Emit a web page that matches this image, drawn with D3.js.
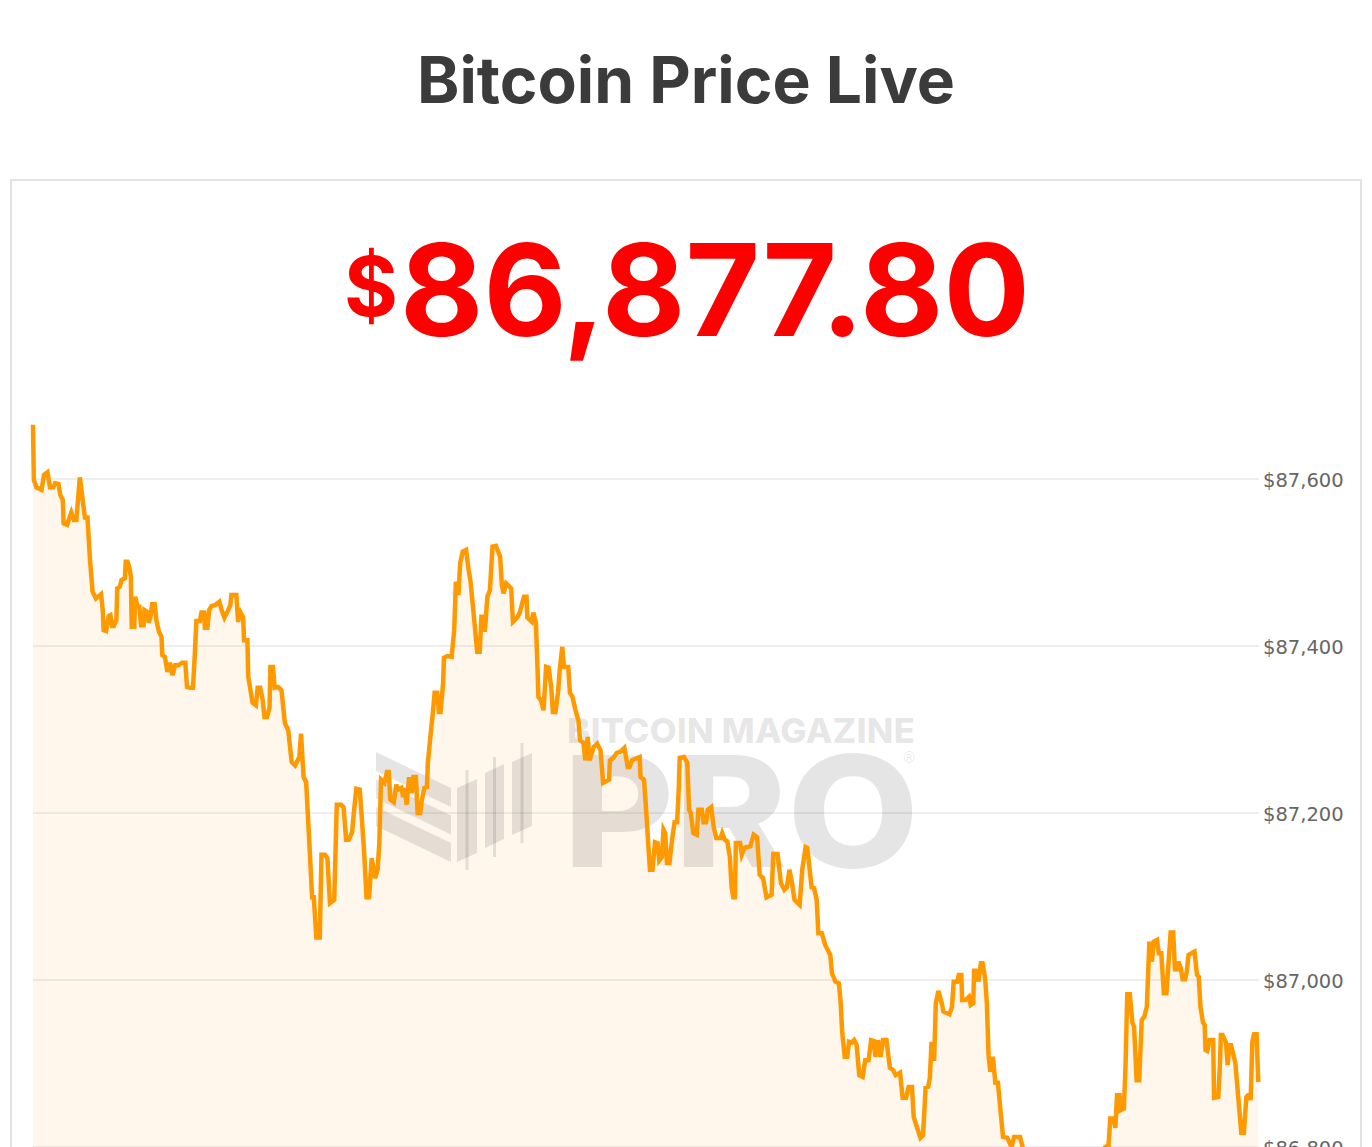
<!DOCTYPE html>
<html><head><meta charset="utf-8">
<script src="https://cdn.jsdelivr.net/npm/d3@7"></script>
<style>html,body{margin:0;padding:0;background:#fff;overflow:hidden}</style>
</head><body><svg id="c" width="1372" height="1147"></svg>
<script>
const title = "Bitcoin Price Live";
const brandTop = "BITCOIN MAGAZINE";
const brandMain = "PRO";
// minutes since start of the 24h window
const times = [0,1,4,10,13,17,20,24,26,30,32,35,36,40,45,48,51,55,58,61,64,67,70,74,80,82,83,86,89,91,93,95,98,99,102,104,108,109,111,113,115,116,119,120,123,125,127,130,131,134,136,138,140,143,145,148,151,152,155,158,161,164,167,171,175,179,181,185,188,190,192,196,198,201,202,205,207,210,214,219,222,225,228,232,233,239,241,244,247,248,252,253,258,262,264,267,270,272,275,278,279,282,284,288,292,296,300,304,308,313,315,318,321,326,328,330,333,337,339,343,346,349,354,357,362,365,368,371,375,377,380,384,386,389,392,395,398,402,405,407,409,413,416,418,420,424,427,429,433,435,437,439,442,445,447,450,452,455,457,460,463,464,467,470,472,475,477,479,482,483,487,492,495,497,500,502,505,509,512,514,518,522,525,527,530,531,534,537,540,544,549,551,553,556,562,564,569,572,577,580,581,586,588,591,593,594,597,600,603,606,609,611,614,617,619,622,624,629,631,634,638,641,643,647,649,652,654,659,663,667,670,677,678,682,686,690,695,699,701,704,708,713,714,718,720,722,725,728,731,734,736,739,741,743,745,748,751,754,757,759,760,765,769,771,773,776,780,782,786,788,791,793,797,800,803,808,810,813,816,819,821,823,825,826,831,833,836,838,843,847,851,854,858,862,868,870,875,879,883,886,889,892,895,901,904,908,910,912,915,918,921,923,927,931,933,937,939,943,947,949,951,954,957,959,962,965,968,971,975,978,982,985,988,990,993,996,999,1003,1007,1011,1014,1019,1022,1026,1029,1033,1035,1040,1043,1046,1049,1052,1054,1056,1059,1061,1064,1068,1070,1077,1080,1082,1086,1088,1091,1092,1096,1100,1102,1105,1106,1110,1111,1114,1116,1119,1121,1123,1125,1128,1131,1134,1137,1140,1145,1150,1153,1160,1163,1167,1174,1184,1193,1203,1212,1221,1231,1240,1250,1257,1260,1264,1266,1270,1272,1274,1277,1278,1282,1284,1286,1289,1292,1294,1297,1300,1303,1306,1309,1312,1315,1317,1321,1323,1326,1329,1332,1335,1337,1340,1342,1345,1346,1349,1351,1354,1356,1358,1365,1368,1370,1372,1375,1377,1378,1380,1383,1387,1388,1393,1395,1396,1398,1402,1404,1406,1408,1413,1416,1420,1423,1426,1428,1430,1431,1433,1435,1438,1440];
const prices = [87665,87599,87590,87587,87605,87608,87590,87590,87595,87594,
87581,87575,87547,87545,87560,87551,87551,87602,87578,87554,
87554,87503,87465,87457,87462,87443,87419,87418,87436,87437,
87424,87424,87431,87469,87471,87479,87481,87501,87501,87495,
87483,87423,87423,87459,87447,87447,87425,87425,87443,87441,
87428,87434,87450,87450,87431,87417,87411,87389,87387,87369,
87380,87365,87377,87377,87380,87380,87351,87350,87350,87387,
87430,87430,87440,87440,87422,87422,87443,87448,87449,87453,
87442,87434,87440,87449,87461,87461,87429,87440,87434,87407,
87407,87363,87332,87329,87350,87350,87335,87315,87315,87326,
87375,87375,87350,87351,87347,87308,87299,87261,87257,87267,
87295,87243,87237,87140,87099,87099,87051,87051,87150,87150,
87146,87092,87096,87210,87210,87207,87168,87168,87177,87200,
87229,87228,87200,87156,87099,87099,87146,87122,87132,87164,
87240,87236,87249,87249,87216,87213,87234,87228,87230,87219,
87230,87210,87243,87224,87243,87243,87200,87200,87216,87230,
87231,87260,87291,87321,87344,87344,87321,87321,87356,87386,
87388,87387,87419,87477,87461,87499,87513,87515,87491,87479,
87437,87393,87393,87435,87435,87417,87459,87467,87519,87520,
87507,87473,87463,87475,87469,87429,87434,87440,87459,87459,
87434,87429,87440,87428,87371,87339,87335,87323,87375,87374,
87351,87321,87321,87344,87371,87399,87375,87375,87344,87339,
87321,87311,87287,87284,87263,87291,87263,87279,87283,87275,
87236,87240,87263,87266,87272,87273,87278,87255,87255,87263,
87265,87267,87243,87240,87212,87180,87132,87132,87165,87164,
87143,87147,87180,87176,87140,87140,87168,87189,87189,87231,
87266,87267,87260,87204,87200,87176,87174,87204,87204,87189,
87189,87204,87207,87183,87170,87170,87176,87168,87166,87147,
87111,87099,87099,87164,87164,87150,87158,87159,87160,87174,
87171,87126,87122,87099,87102,87151,87151,87116,87108,87111,
87132,87116,87096,87090,87132,87159,87158,87140,87111,87110,
87096,87056,87056,87042,87038,87030,87008,86998,86996,86976,
86937,86908,86908,86926,86925,86928,86922,86886,86884,86904,
86904,86928,86927,86908,86928,86908,86928,86928,86895,86892,
86886,86889,86859,86859,86872,86872,86836,86820,86811,86814,
86871,86872,86883,86926,86903,86972,86987,86972,86962,86959,
86968,86998,86998,87006,87006,86976,86976,86980,86970,86972,
87011,87011,86998,87020,87020,87002,86972,86910,86890,86908,
86877,86877,86844,86812,86811,86800,86812,86812,86800,
86784,86766,86774,86754,86748,86763,86742,86758,86772,86778,86790,
86800,86802,86834,86834,86823,86862,86862,86844,86846,86898,86983,
86983,86949,86944,86880,86880,86952,86956,86968,87046,87022,
87046,87048,87032,87032,86984,86984,87028,87057,87057,87013,
87013,87022,87014,87001,87001,87010,87030,87034,87006,87004,
86968,86949,86946,86916,86915,86928,86928,86859,86860,86901,
86934,86934,86925,86898,86922,86922,86901,86865,86817,86817,
86860,86862,86862,86856,86926,86935,86935,86877.8];
const yTicks = [86800, 87000, 87200, 87400, 87600];

const svg = d3.select('#c');
const x = d3.scaleLinear().domain([0, 1440]).range([33, 1258.3]);
const y = d3.scaleLinear().domain([87000, 87600]).range([980, 479]);
const data = times.map((t, i) => ({t: t, p: prices[i]}));

function fitWidth(sel, target) {
  const w = sel.node().getBBox().width;
  const fs = parseFloat(sel.style('font-size'));
  sel.style('font-size', (fs * target / w) + 'px');
}

// card
svg.append('rect').attr('x', 11).attr('y', 180).attr('width', 1350).attr('height', 1100)
  .attr('fill', '#fff').attr('stroke', '#e3e3e3').attr('stroke-width', 2);

// title
const tt = svg.append('text').attr('x', 686).attr('y', 103).attr('text-anchor', 'middle')
  .style('font-family', 'Inter, Roboto, sans-serif').style('font-weight', 700).style('font-size', '60px')
  .attr('fill', '#3b3b3b').text(title);
fitWidth(tt, 538);

// big price
const last = prices[prices.length - 1];
const dollar = svg.append('text').attr('x', 344).attr('y', 316)
  .style('font-family', 'Inter, Roboto, sans-serif').style('font-weight', 700).style('font-size', '78px')
  .attr('fill', '#ff0000').text('$');
fitWidth(dollar, 54);
const num = svg.append('text').attr('x', 400).attr('y', 336)
  .style('font-family', 'Inter, Roboto, sans-serif').style('font-weight', 700).style('font-size', '128px')
  .attr('fill', '#ff0000').text(d3.format(',.2f')(last));
fitWidth(num, 630);

// gridlines
svg.append('g').selectAll('line').data(yTicks).join('line')
  .attr('x1', 33).attr('x2', 1259).attr('y1', d => y(d)).attr('y2', d => y(d))
  .attr('stroke', '#eeeeee').attr('stroke-width', 2);

// area fill
const area = d3.area().x(d => x(d.t)).y0(y(86300)).y1(d => y(d.p));
svg.append('path').datum(data).attr('d', area).attr('fill', 'rgba(255,153,0,0.075)');

// watermark
const wm = svg.append('g').attr('fill', '#000').attr('fill-opacity', 0.1);
[0, 1, 2].forEach(i => {
  const t0 = 752 + 27.5 * i;
  wm.append('path').attr('d', `M376,${t0} L451,${t0 + 36} L451,${t0 + 55} L376,${t0 + 19} Z`);
});
[[457, 477, 788, 862, 770, 870], [485, 504, 773, 848, 757, 857], [512, 532, 762, 835, 743, 843]].forEach(b => {
  const [x0, x1, top, bot, w0, w1] = b;
  const s = 9;
  wm.append('path').attr('d', `M${x0},${top} L${x1},${top - s} L${x1},${bot - s} L${x0},${bot} Z`);
  const cx = (x0 + x1) / 2;
  wm.append('rect').attr('x', cx - 1.5).attr('y', w0).attr('width', 3).attr('height', w1 - w0);
});
wm.append('text').attr('x', 567).attr('y', 743).attr('textLength', 348).attr('lengthAdjust', 'spacingAndGlyphs')
  .style('font-family', 'Inter, sans-serif').style('font-weight', 800).style('font-size', '34px').text(brandTop);
wm.append('text').attr('x', 563).attr('y', 867).attr('textLength', 356).attr('lengthAdjust', 'spacingAndGlyphs')
  .style('font-family', 'Inter, sans-serif').style('font-weight', 800).style('font-size', '154px').text(brandMain);
wm.append('text').attr('x', 909).attr('y', 763).attr('text-anchor', 'middle')
  .style('font-family', 'DejaVu Sans, sans-serif').style('font-size', '15px').text('®');

// price line
const line = d3.line().x(d => x(d.t)).y(d => y(d.p));
svg.append('path').datum(data).attr('d', line).attr('fill', 'none')
  .attr('stroke', '#ff9900').attr('stroke-width', 4.5);

// y axis labels
svg.append('g').selectAll('text').data(yTicks).join('text')
  .attr('x', 1263).attr('y', d => y(d) + 7.5)
  .style('font-family', 'DejaVu Sans, Verdana, sans-serif').style('font-size', '19.5px')
  .attr('fill', '#666').text(d => '$' + d3.format(',')(d));
</script></body></html>
